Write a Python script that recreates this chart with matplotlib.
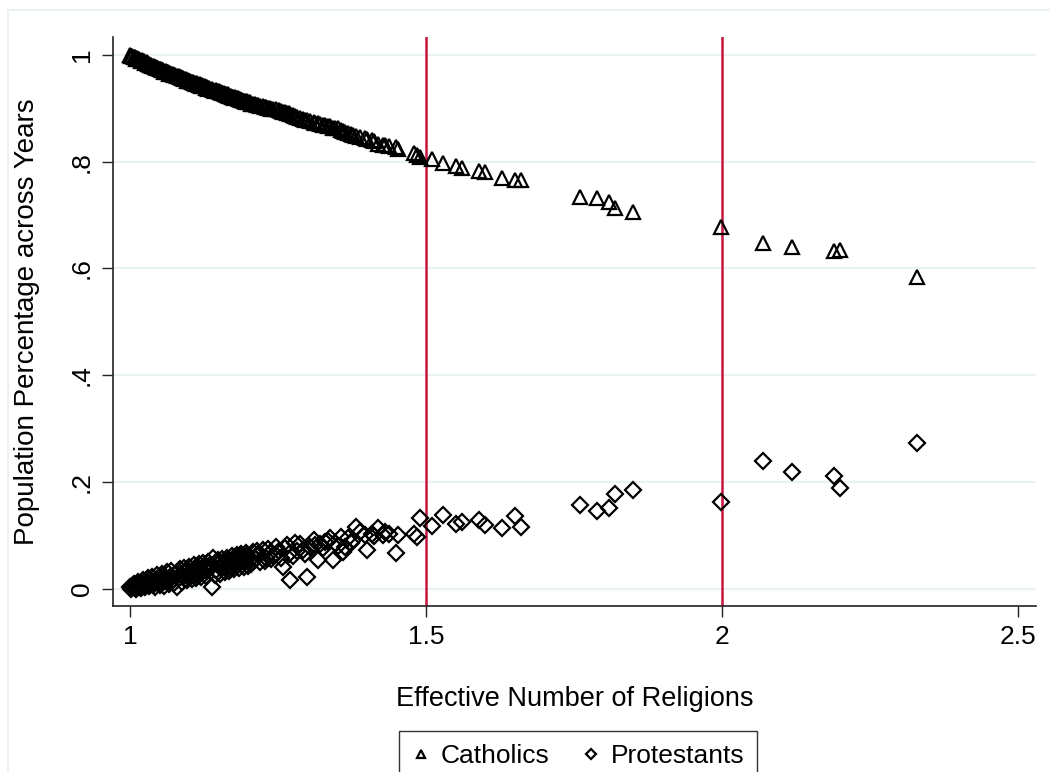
import matplotlib
matplotlib.use("Agg")
import matplotlib.pyplot as plt
from matplotlib.patches import Rectangle

plt.rcParams['font.family'] = ['Liberation Sans', 'DejaVu Sans']

# effective number of religions and population shares (first block of observations)
enr_a = [1.000, 1.004, 1.008, 1.012, 1.016, 1.020, 1.024, 1.028, 1.032, 1.036,
         1.040, 1.044, 1.048, 1.052, 1.056, 1.060, 1.064, 1.068, 1.072, 1.076,
         1.079, 1.082, 1.086, 1.090, 1.094, 1.098, 1.102, 1.106, 1.110, 1.114,
         1.118, 1.122, 1.126, 1.130, 1.134, 1.138, 1.141, 1.145, 1.150, 1.154,
         1.158, 1.162, 1.166, 1.170, 1.174, 1.178, 1.182, 1.186, 1.190, 1.194,
         1.198, 1.202, 1.208, 1.212, 1.217, 1.225, 1.230, 1.236, 1.242, 1.251,
         1.259, 1.262, 1.268, 1.270, 1.279, 1.282, 1.293, 1.299, 1.304, 1.310,
         1.318, 1.321, 1.330, 1.338, 1.343, 1.352, 1.360, 1.363, 1.369, 1.377,
         1.382, 1.397, 1.400, 1.408, 1.419, 1.428, 1.431, 1.450, 1.452,
         1.479, 1.484, 1.490, 1.510, 1.529, 1.550, 1.561, 1.589, 1.599, 1.629,
         1.650, 1.661, 1.760, 1.789, 1.809, 1.819, 1.850, 1.999, 2.069, 2.119,
         2.189, 2.200, 2.329]

catholics_a = [1.000, 0.998, 0.996, 0.994, 0.992, 0.990, 0.988, 0.986, 0.984, 0.982,
               0.980, 0.978, 0.976, 0.974, 0.972, 0.970, 0.968, 0.966, 0.964, 0.963,
               0.961, 0.960, 0.958, 0.957, 0.955, 0.954, 0.952, 0.950, 0.948, 0.947,
               0.945, 0.943, 0.941, 0.940, 0.938, 0.937, 0.935, 0.934, 0.932, 0.930,
               0.929, 0.927, 0.926, 0.924, 0.922, 0.921, 0.919, 0.917, 0.916, 0.914,
               0.913, 0.911, 0.909, 0.908, 0.906, 0.904, 0.902, 0.900, 0.899, 0.897,
               0.894, 0.893, 0.891, 0.890, 0.886, 0.884, 0.880, 0.878, 0.876, 0.874,
               0.872, 0.871, 0.868, 0.866, 0.864, 0.863, 0.858, 0.856, 0.853, 0.850,
               0.848, 0.844, 0.843, 0.841, 0.834, 0.832, 0.831, 0.827, 0.824,
               0.817, 0.812, 0.809, 0.805, 0.797, 0.792, 0.789, 0.783, 0.780, 0.770,
               0.766, 0.766, 0.733, 0.731, 0.724, 0.714, 0.706, 0.678, 0.647, 0.641,
               0.633, 0.634, 0.584]

protestants_a = [0.002, 0.004, 0.001, 0.006, 0.003, 0.008, 0.005, 0.010, 0.004, 0.012,
                 0.008, 0.015, 0.010, 0.018, 0.012, 0.020, 0.014, 0.022, 0.016, 0.025,
                 0.002, 0.019, 0.027, 0.021, 0.030, 0.024, 0.031, 0.026, 0.034, 0.028,
                 0.036, 0.030, 0.040, 0.032, 0.043, 0.003, 0.057, 0.035, 0.045, 0.038,
                 0.048, 0.040, 0.052, 0.043, 0.055, 0.046, 0.058, 0.049, 0.060, 0.051,
                 0.062, 0.053, 0.069, 0.055, 0.064, 0.072, 0.058, 0.066, 0.060, 0.070,
                 0.041, 0.075, 0.064, 0.016, 0.085, 0.070, 0.072, 0.022, 0.078, 0.091,
                 0.053, 0.084, 0.088, 0.094, 0.053, 0.080, 0.069, 0.078, 0.094, 0.090,
                 0.116, 0.100, 0.072, 0.103, 0.113, 0.100, 0.106, 0.066, 0.100,
                 0.103, 0.097, 0.133, 0.117, 0.138, 0.121, 0.125, 0.128, 0.119, 0.113,
                 0.136, 0.115, 0.157, 0.145, 0.150, 0.178, 0.185, 0.162, 0.239, 0.218,
                 0.210, 0.189, 0.272]

# second block of observations, packed into the low-diversity range
enr_b = [1.002, 1.006, 1.010, 1.014, 1.018, 1.022, 1.026, 1.030, 1.034, 1.038,
         1.042, 1.046, 1.050, 1.054, 1.058, 1.062, 1.066, 1.070, 1.074, 1.084,
         1.088, 1.092, 1.096, 1.100, 1.104, 1.108, 1.112, 1.116, 1.120, 1.124,
         1.128, 1.132, 1.143, 1.148, 1.152, 1.156, 1.160, 1.164, 1.168, 1.172,
         1.176, 1.180, 1.184, 1.188, 1.192, 1.196, 1.200, 1.205, 1.214, 1.220,
         1.228, 1.233, 1.239, 1.246, 1.255, 1.265, 1.275, 1.288, 1.296, 1.313,
         1.326, 1.334, 1.347, 1.356, 1.373, 1.389, 1.413, 1.438]

catholics_b = [0.999, 0.996, 0.993, 0.992, 0.989, 0.988, 0.985, 0.984, 0.981, 0.980,
               0.977, 0.976, 0.973, 0.972, 0.969, 0.968, 0.965, 0.964, 0.962, 0.958,
               0.956, 0.955, 0.952, 0.951, 0.949, 0.948, 0.946, 0.944, 0.942, 0.941,
               0.939, 0.937, 0.933, 0.932, 0.930, 0.928, 0.927, 0.925, 0.924, 0.922,
               0.920, 0.919, 0.917, 0.915, 0.914, 0.912, 0.911, 0.909, 0.907, 0.905,
               0.902, 0.901, 0.899, 0.898, 0.895, 0.892, 0.888, 0.882, 0.879, 0.873,
               0.869, 0.867, 0.864, 0.860, 0.852, 0.846, 0.838, 0.829]

protestants_b = [0.000, 0.008, 0.000, 0.012, 0.001, 0.016, 0.002, 0.019, 0.006, 0.022,
                 0.003, 0.025, 0.007, 0.028, 0.005, 0.030, 0.009, 0.033, 0.011, 0.036,
                 0.012, 0.038, 0.015, 0.041, 0.017, 0.044, 0.019, 0.046, 0.021, 0.048,
                 0.023, 0.050, 0.026, 0.053, 0.028, 0.056, 0.031, 0.058, 0.033, 0.061,
                 0.036, 0.063, 0.038, 0.065, 0.041, 0.067, 0.043, 0.046, 0.070, 0.049,
                 0.052, 0.074, 0.055, 0.078, 0.057, 0.081, 0.060, 0.083, 0.064, 0.082,
                 0.076, 0.089, 0.085, 0.097, 0.086, 0.106, 0.098, 0.103]

enr = enr_a + enr_b
catholics = catholics_a + catholics_b
protestants = protestants_a + protestants_b

cutoffs = [1.5, 2.0]
xticks = [1, 1.5, 2, 2.5]
xticklabels = ['1', '1.5', '2', '2.5']
yticks = [0, 0.2, 0.4, 0.6, 0.8, 1.0]
yticklabels = ['0', '.2', '.4', '.6', '.8', '1']

W, H = 1050, 772
fig = plt.figure(figsize=(W / 100, H / 100), dpi=100)
fig.patch.set_facecolor('white')

# outer graph region outline
fig.patches.append(Rectangle((8 / W, -0.1), 1.2, 1 - 10 / H + 0.1, transform=fig.transFigure,
                             fill=False, edgecolor='#eaf2f3', linewidth=1.5))

ax = fig.add_axes([113 / W, 1 - 606 / H, (1036 - 113) / W, (606 - 37) / H])
ax.set_xlim(0.9713, 2.5304)
ax.set_ylim(-0.0328, 1.0337)

for y in yticks:
    ax.axhline(y, color='#eaf2f3', linewidth=1.6, zorder=0)

for c in cutoffs:
    ax.axvline(c, color='#c8143c', linewidth=1.8, zorder=1)

ax.plot(enr, catholics, linestyle='none', marker='^', markersize=10,
        markerfacecolor='none', markeredgecolor='black', markeredgewidth=1.6,
        label='Catholics', zorder=3)
ax.plot(enr, protestants, linestyle='none', marker='D', markersize=7.8,
        markerfacecolor='none', markeredgecolor='black', markeredgewidth=1.6,
        label='Protestants', zorder=3)

for s in ['top', 'right']:
    ax.spines[s].set_visible(False)
for s in ['left', 'bottom']:
    ax.spines[s].set_linewidth(1.2)
    ax.spines[s].set_color('#222222')

ax.set_xticks(xticks)
ax.set_xticklabels(xticklabels)
ax.set_yticks(yticks)
ax.set_yticklabels(yticklabels, rotation=90, va='center')
ax.tick_params(axis='both', length=8, width=1.0, color='#222222', labelsize=19, pad=6)

ax.set_xlabel('Effective Number of Religions', fontsize=19.5, labelpad=26)
ax.set_ylabel('Population Percentage across Years', fontsize=20, labelpad=21)

# legend box runs past the bottom edge of the graph
handles, labels = ax.get_legend_handles_labels()
leg = fig.legend(handles, labels, loc='upper center', bbox_to_anchor=(578 / W, 1 - 731 / H),
                 ncol=2, frameon=True, fancybox=False, fontsize=19, markerscale=0.6,
                 handlelength=0.7, handletextpad=0.4, columnspacing=1.2,
                 borderpad=0.5, borderaxespad=0)
leg.get_frame().set_edgecolor('black')
leg.get_frame().set_linewidth(1.0)

fig.savefig('out.png', dpi=100)
